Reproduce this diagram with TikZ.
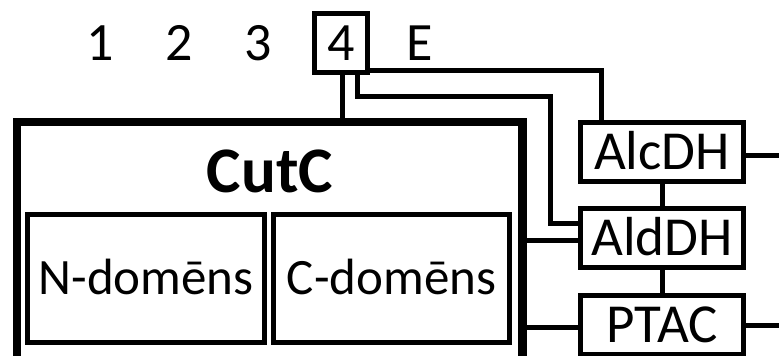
\documentclass[tikz,border=0pt]{standalone}
\usepackage{fontspec}
\setmainfont{Carlito}
\begin{document}
\begin{tikzpicture}[x=1pt,y=-1pt,
  wire/.style={line width=5pt},
  num/.style={inner sep=0pt, text height=34.1pt, text depth=0pt,
    font=\fontsize{54}{60}\selectfont},
  enz/.style={draw, line width=5pt, inner sep=0pt, minimum width=163pt,
    minimum height=59pt, text height=34.8pt, text depth=0pt,
    font=\fontsize{55}{60}\selectfont},
  dom/.style={draw, line width=5pt, inner sep=0pt, minimum width=237pt,
    minimum height=128.5pt, text height=32.2pt, text depth=0pt,
    font=\fontsize{51}{56}\selectfont}]
\useasboundingbox (0,0) rectangle (779,356);
\clip (0,0) rectangle (779,356);
\fill[white] (0,0) rectangle (779,356);

% row of positions, the fourth one boxed
\node[num] (n1) at (100,43) {1};
\node[num] (n2) at (179,43) {2};
\node[num] (n3) at (258,43) {3};
\node[num, draw, line width=5pt, minimum width=53pt, minimum height=59pt] (n4) at (341,43) {4};
\node[num] (nE) at (420,43) {E};

% CutC with its two domains
\node[draw, line width=8.5pt, inner sep=0pt, minimum width=505.5pt,
      minimum height=240pt] (cutc) at (269.75,242) {};
\node[inner sep=0pt, text height=41pt, text depth=0pt, anchor=base,
      font=\bfseries\fontsize{65}{70}\selectfont] (title) at (270,192) {CutC};
\node[dom] (ndom) at (146,278.25) {N-domēns};
\node[dom, minimum width=236pt] (cdom) at (391.5,278.25) {C-domēns};

% enzymes
\node[enz] (alcdh) at (662,152) {AlcDH};
\node[enz] (aldh) at (662,238) {AldDH};
\node[enz] (ptac) at (662,325) {PTAC};

% free ends leaving the picture on the right
\coordinate (endA) at (790,155.5);
\coordinate (endP) at (790,325.5);
\coordinate (bend) at (550.5,96.5);

% connectors
\draw[wire] ([xshift=1.5pt]n4.south) -- ([xshift=1.5pt]n4.south |- cutc.north);
\draw[wire] ([yshift=4.5pt]n4.south east) -| ([xshift=-60.5pt]alcdh.north);
\draw[wire] ([xshift=16.5pt]n4.south) |- (bend) |- ([yshift=15pt]aldh.west);
\draw[wire] (alcdh.south) -- (aldh.north);
\draw[wire] (aldh.south) -- (ptac.north);
\draw[wire] ([yshift=-2.5pt]aldh.west) -- ([yshift=-2.5pt]aldh.west -| cutc.east);
\draw[wire] ([yshift=-2.5pt]ptac.west) -- ([yshift=-2.5pt]ptac.west -| cutc.east);
\draw[wire] ([yshift=-3.5pt]alcdh.east) -- (endA);
\draw[wire] ([yshift=-0.5pt]ptac.east) -- (endP);
\end{tikzpicture}
\end{document}
